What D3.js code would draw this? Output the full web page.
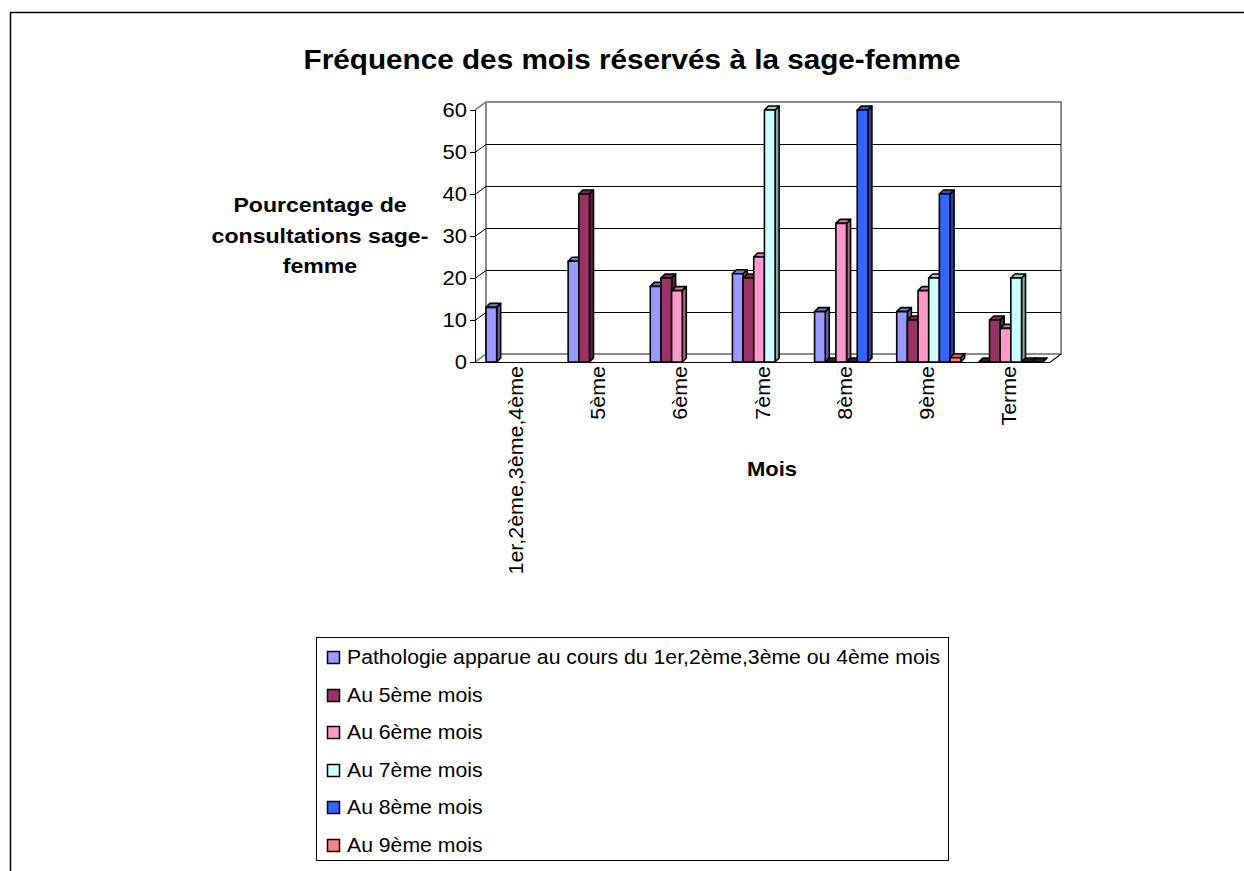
<!DOCTYPE html>
<html>
<head>
<meta charset="utf-8">
<script src="https://cdn.jsdelivr.net/npm/d3@7"></script>
<style>
  body { margin: 0; background: #fff; }
  svg { display: block; }
  text { font-family: "Liberation Sans", Arial, sans-serif; fill: #000; }
</style>
</head>
<body>
<svg id="chart" width="1244" height="871"></svg>
<script>
(function() {
"use strict";

// months (x categories)
var categories = ["1er,2ème,3ème,4ème", "5ème", "6ème", "7ème", "8ème", "9ème", "Terme"];

var seriesNames = [
  "Pathologie apparue au cours du 1er,2ème,3ème ou 4ème mois",
  "Au 5ème mois",
  "Au 6ème mois",
  "Au 7ème mois",
  "Au 8ème mois",
  "Au 9ème mois"
];

// percentages, one value per category (null = no bar)
var patho1a4 = [13, 24, 18, 21, 12, 12, 0];
var au5     = [null, 40, 20, 20, 0, 10, 10];
var au6     = [null, null, 17, 25, 33, 17, 8];
var au7     = [null, null, null, 60, 0, 20, 20];
var au8     = [null, null, null, null, 60, 40, 0];
var au9     = [null, null, null, null, null, 1, 0];

var seriesValues = [patho1a4, au5, au6, au7, au8, au9];
var seriesColors = ["#9999ff", "#993366", "#ff99cc", "#ccffff", "#3366ff", "#ff8080"];

var yTicks = [0, 10, 20, 30, 40, 50, 60];

var svg = d3.select("#chart");
var sx = 1.1; // text is drawn a bit wide in the original

// plot geometry (front plane + depth of the back wall)
var left = 475, right = 1050, top = 110, bottom = 362;
var dx = 11, dy = -8;   // wall depth
var bdx = 4, bdy = -4;  // bar depth

var x0 = d3.scaleBand().domain(categories).range([left, right]);
var x1 = d3.scaleBand().domain(d3.range(seriesNames.length)).range([11, 75]);
var y = d3.scaleLinear().domain([0, 60]).range([bottom, top]);

// outer frame
svg.append("rect")
  .attr("x", 10.5).attr("y", 12.5)
  .attr("width", 1260).attr("height", 900)
  .attr("fill", "none").attr("stroke", "#000").attr("stroke-width", 1.5);

function label(x, y, rot, txt, size, weight, anchor) {
  return svg.append("text")
    .attr("transform", "translate(" + x + "," + y + ") rotate(" + rot + ") scale(" + sx + ",1)")
    .attr("font-size", size)
    .attr("font-weight", weight || "normal")
    .attr("text-anchor", anchor || "start")
    .text(txt);
}

// title
label(632, 69, 0, "Fréquence des mois réservés à la sage-femme", 27, "bold", "middle");

// walls
var wall = svg.append("g").attr("fill", "none");
wall.append("path")
  .attr("d", "M" + left + "," + top + "L" + (left + dx) + "," + (top + dy) +
    "L" + (right + dx) + "," + (top + dy) + "L" + (right + dx) + "," + (bottom + dy) +
    "L" + (left + dx) + "," + (bottom + dy) + "L" + left + "," + bottom +
    "M" + (left + dx) + "," + (top + dy) + "L" + (left + dx) + "," + (bottom + dy))
  .attr("stroke", "#8c8c8c").attr("stroke-width", 2);

// gridlines on side + back wall
wall.selectAll("path.grid")
  .data(yTicks.filter(function(d) { return d > 0 && d < 60; }))
  .enter().append("path")
  .attr("class", "grid")
  .attr("stroke", "#000").attr("stroke-width", 1)
  .attr("d", function(d) {
    var yy = Math.round(y(d)) + 0.5;
    return "M" + left + "," + yy + "L" + (left + dx) + "," + (yy + dy) + "L" + (right + dx) + "," + (yy + dy);
  });

// front floor edge
wall.append("path")
  .attr("d", "M" + (left - 5) + "," + (bottom + 0.5) + "L" + right + "," + (bottom + 0.5) +
    "L" + (right + dx) + "," + (bottom + dy))
  .attr("stroke", "#000").attr("stroke-width", 1.2);

// y axis
var yAxis = svg.append("g");
yAxis.append("line")
  .attr("x1", left + 0.5).attr("x2", left + 0.5)
  .attr("y1", top).attr("y2", bottom)
  .attr("stroke", "#000");
yAxis.selectAll("line.tick").data(yTicks).enter().append("line")
  .attr("class", "tick")
  .attr("x1", left - 5).attr("x2", left)
  .attr("y1", function(d) { return Math.round(y(d)) + 0.5; })
  .attr("y2", function(d) { return Math.round(y(d)) + 0.5; })
  .attr("stroke", "#000");
yTicks.forEach(function(d) {
  label(467, y(d) + 7, 0, d, 20, "normal", "end");
});

// bars
var bars = svg.append("g");
categories.forEach(function(c, ci) {
  seriesValues.forEach(function(vals, si) {
    var v = vals[ci];
    if (v == null) return;
    var col = d3.color(seriesColors[si]);
    var bx = x0(c) + x1(si), bw = x1.bandwidth();
    var by = y(v), bb = y(0);
    var g = bars.append("g").attr("stroke", "#000").attr("stroke-width", 1.6).attr("stroke-linejoin", "round");
    g.append("path")
      .attr("fill", v === 0 ? "#222" : col.darker(1.2))
      .attr("d", "M" + (bx + bw) + "," + bb + "L" + (bx + bw + bdx) + "," + (bb + bdy) +
        "L" + (bx + bw + bdx) + "," + (by + bdy) + "L" + (bx + bw) + "," + by + "Z");
    g.append("path")
      .attr("fill", v === 0 ? "#222" : col.darker(0.6))
      .attr("d", "M" + bx + "," + by + "L" + (bx + bdx) + "," + (by + bdy) +
        "L" + (bx + bw + bdx) + "," + (by + bdy) + "L" + (bx + bw) + "," + by + "Z");
    if (bb - by > 0) {
      g.append("rect")
        .attr("fill", col)
        .attr("x", bx).attr("y", by)
        .attr("width", bw).attr("height", bb - by);
    }
  });
});

// category labels, rotated
categories.forEach(function(c) {
  label(x0(c) + x0.bandwidth() / 2 + 7, 366, -90, c, 19.5, "normal", "end");
});

// axis titles
label(772, 476, 0, "Mois", 20, "bold", "middle");
label(320, 212, 0, "Pourcentage de", 21, "bold", "middle");
label(320, 243, 0, "consultations sage-", 21, "bold", "middle");
label(320, 273, 0, "femme", 21, "bold", "middle");

// legend
var legend = svg.append("g");
legend.append("rect")
  .attr("x", 316.5).attr("y", 637.5)
  .attr("width", 632).attr("height", 223)
  .attr("fill", "none").attr("stroke", "#000");
var rowY = d3.scaleLinear().domain([0, 5]).range([657, 845]);
seriesNames.forEach(function(name, i) {
  legend.append("rect")
    .attr("x", 327.5).attr("y", Math.round(rowY(i)) - 5.5)
    .attr("width", 12).attr("height", 12)
    .attr("fill", seriesColors[i]).attr("stroke", "#000").attr("stroke-width", 1.5);
  label(347, rowY(i) + 7, 0, name, 19.3, "normal", "start");
});

})();
</script>
</body>
</html>
